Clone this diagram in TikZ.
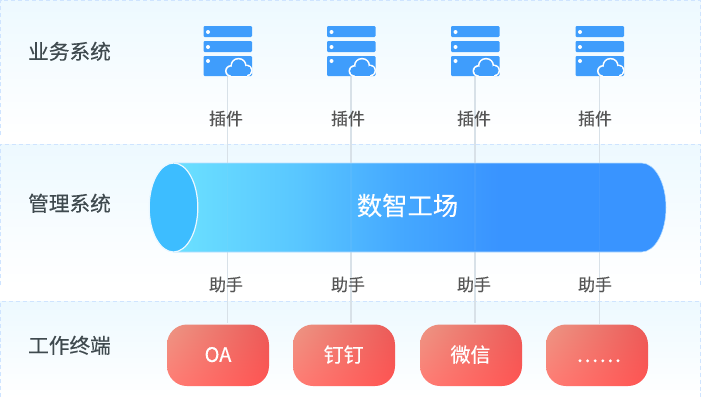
\documentclass[tikz,border=0pt]{standalone}
\usepackage{fontspec}
\setmainfont{Noto Sans CJK SC}[FakeBold=0.3]
\usetikzlibrary{shapes.geometric,shadings}
\definecolor{bandtop}{HTML}{EDF9FF}
\definecolor{banddash}{HTML}{CFE4FF}
\definecolor{conn}{HTML}{D8E1E8}
\definecolor{labeltext}{HTML}{3F4A4F}
\definecolor{smalltext}{HTML}{555555}
\definecolor{iconblue}{HTML}{3F9DFC}
\definecolor{capblue}{HTML}{3DBDFF}
\definecolor{cyledge}{HTML}{B8DEFF}
\definecolor{tul}{HTML}{EC9684}
\definecolor{tur}{HTML}{EA5A58}
\definecolor{tll}{HTML}{FF7C74}
\definecolor{tlr}{HTML}{FF5452}
\pgfdeclarehorizontalshading{cylshade}{100bp}{
  rgb(0bp)=(0.42,0.88,1);
  rgb(25bp)=(0.42,0.88,1);
  rgb(37.5bp)=(0.35,0.78,1);
  rgb(48bp)=(0.27,0.66,1);
  rgb(58bp)=(0.225,0.58,1);
  rgb(100bp)=(0.225,0.58,1)}
\tikzset{
  bandfill/.style={top color=bandtop,bottom color=white},
  banddashes/.style={draw=banddash,dash pattern=on 3pt off 2.2pt,line width=0.7pt},
  connector/.style={draw=conn,line width=1.2pt},
  bigtext/.style={font=\fontsize{15.5pt}{18pt}\selectfont,text=labeltext,inner sep=0pt},
  smalllabel/.style={font=\fontsize{12.7pt}{15pt}\selectfont,text=smalltext,inner sep=0pt},
  termbox/.style={rectangle,minimum width=76.5pt,minimum height=46.5pt,inner sep=0pt,
    font=\fontsize{15pt}{18pt}\selectfont,text=white},
  termfill/.style={rounded corners=15pt,upper left=tul,upper right=tur,lower left=tll,lower right=tlr},
  iconanchor/.style={rectangle,minimum width=36.75pt,minimum height=37.5pt,inner sep=0pt}
}
\newcommand{\servericon}[1]{%
  \begin{scope}[shift={(#1,0)}]
    \fill[iconblue,rounded corners=0.8pt] (-24,26) rectangle (24.5,37);
    \fill[iconblue,rounded corners=0.8pt] (-24,41) rectangle (24.5,52);
    \fill[iconblue,rounded corners=0.8pt] (-24,56) rectangle (24.5,76);
    \fill[white] (-19.5,32) circle (2) (-19.5,47) circle (2) (-19.5,61) circle (2);
    \fill[white] (3.5,71) circle (6);
    \fill[white] (11,66) circle (8.2);
    \fill[white] (19,70.5) circle (6);
    \fill[white] (3.5,70) rectangle (19,77);
    \fill[iconblue] (3.5,71) circle (4.4);
    \fill[iconblue] (11,66) circle (6.6);
    \fill[iconblue] (19,70.5) circle (4.6);
    \fill[iconblue] (3.5,70) rectangle (19,75.5);
  \end{scope}}
\begin{document}
\begin{tikzpicture}[x=0.75pt,y=-0.75pt]
\useasboundingbox (0,0) rectangle (701,400);
% bands
\path[bandfill] (0,0) rectangle (701,135);
\path[bandfill] (0,144) rectangle (701,285);
\path[bandfill] (0,301.5) rectangle (701,397);
\draw[banddashes] (0.4,135) -- (0.4,0.4) -- (700.4,0.4) -- (700.4,135);
\draw[banddashes] (0.4,285) -- (0.4,144) -- (700.4,144) -- (700.4,285);
\draw[banddashes] (0.4,397) -- (0.4,301.5) -- (700.4,301.5) -- (700.4,397);
% nodes used by connectors
\node[iconanchor] (i1) at (227.5,51) {};
\node[iconanchor] (i2) at (351,51) {};
\node[iconanchor] (i3) at (475,51) {};
\node[iconanchor] (i4) at (599.5,51) {};
\path[termfill] (167,324.5) rectangle (269,386);
\path[termfill] (293,324.5) rectangle (395,386);
\path[termfill] (420,324.5) rectangle (522,386);
\path[termfill] (546,324.5) rectangle (648,386);
\node[termbox] (t1) at (218,354.6) {OA};
\node[termbox] (t2) at (343.7,354.6) {钉钉};
\node[termbox] (t3) at (470.5,354.6) {微信};
\node[termbox] (t4) at (597,355.2) {};
\foreach \dx in {-17,-9.4,-1.8,5.8,13.4,21} \fill[white] ([xshift=\dx*0.75pt,yshift=-4.2pt]t4.center) circle (1.6);
% connectors
\draw[connector] (i1.south) -- (i1.south |- t1.north);
\draw[connector] (i2.south) -- (i2.south |- t2.north);
\draw[connector] (i3.south) -- (i3.south |- t3.north);
\draw[connector] (i4.south) -- (i4.south |- t4.north);
% icons
\servericon{227.5}
\servericon{351}
\servericon{475}
\servericon{599.5}
% cylinder
\path[shading=cylshade,draw=cyledge,line width=0.4pt] (173.5,163) -- (641.5,163) arc[start angle=-90,end angle=90,x radius=24.5,y radius=44.5] -- (173.5,252) -- cycle;
\node[inner sep=0pt,minimum width=387.75pt,minimum height=66.75pt,font=\fontsize{19pt}{22pt}\selectfont,text=white] (cyl) at (407.5,205.5) {数智工场};
\draw[conn,opacity=0.06,line width=1.2pt] (i1.south |- cyl.north) -- (i1.south |- cyl.south);
\draw[conn,opacity=0.06,line width=1.2pt] (i2.south |- cyl.north) -- (i2.south |- cyl.south);
\draw[conn,opacity=0.06,line width=1.2pt] (i3.south |- cyl.north) -- (i3.south |- cyl.south);
\draw[conn,opacity=0.06,line width=1.2pt] (i4.south |- cyl.north) -- (i4.south |- cyl.south);
\node[ellipse,inner sep=0pt,minimum width=36.5pt,minimum height=66.75pt,fill=capblue,draw=white!90!capblue,line width=0.9pt] (cap) at (173.5,207.5) {};
% labels
\node[bigtext] (l1) at (69.5,51.3) {业务系统};
\node[bigtext] (l2) at (69.5,203.3) {管理系统};
\node[bigtext] (l3) at (69.5,345.3) {工作终端};
\foreach \n/\x in {p1/226,p2/348,p3/474,p4/595} \node[smalllabel] (\n) at (\x,118.5) {插件};
\foreach \n/\x in {h1/226,h2/348,h3/474,h4/595} \node[smalllabel] (\n) at (\x,284.5) {助手};
\end{tikzpicture}
\end{document}
